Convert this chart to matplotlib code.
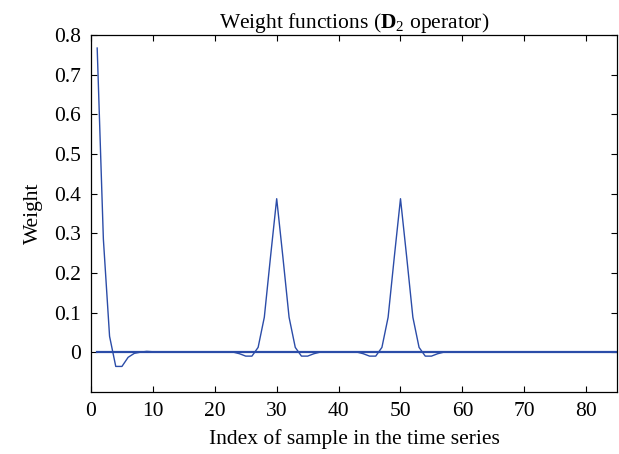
import numpy as np
import matplotlib
matplotlib.use("Agg")
import matplotlib.pyplot as plt

plt.rcParams["font.family"] = ["Liberation Serif", "DejaVu Serif"]
plt.rcParams["mathtext.fontset"] = "custom"
plt.rcParams["mathtext.rm"] = "Liberation Serif"
plt.rcParams["mathtext.bf"] = "Liberation Serif:bold"

# sample index and weight of the D2 operator
sample_idx = list(range(1, 58))
weights = [0.767, 0.285, 0.040, -0.036, -0.036, -0.013, -0.003, 0.000, 0.002, 0.001,
           0.0, 0.0, 0.0, 0.0, 0.0, 0.0, 0.0, 0.0, 0.0, 0.0,
           0.0, 0.0, 0.0, -0.004, -0.010, -0.010, 0.012, 0.088, 0.240, 0.387,
           0.240, 0.088, 0.012, -0.010, -0.010, -0.004, 0.0, 0.0, 0.0, 0.0,
           0.0, 0.0, 0.0, -0.004, -0.010, -0.010, 0.012, 0.088, 0.240, 0.387,
           0.240, 0.088, 0.012, -0.010, -0.010, -0.004, 0.0]
zero_x = [1, 86]
zero_y = [0, 0]

xticks = list(range(0, 81, 10))
yticks = [0, 0.1, 0.2, 0.3, 0.4, 0.5, 0.6, 0.7, 0.8]

fig = plt.figure(figsize=(6.19, 4.54), dpi=100)
ax = fig.add_axes([0.147, 0.137, 0.85, 0.786])

line_col = "#2b4ca8"
ax.plot(zero_x, zero_y, color=line_col, lw=1.6)
ax.plot(sample_idx, weights, color=line_col, lw=1.0)

ax.set_xlim(0, 85)
ax.set_ylim(-0.1, 0.8)
ax.set_xticks(xticks)
ax.set_yticks(yticks)
ax.set_yticklabels(["0", "0.1", "0.2", "0.3", "0.4", "0.5", "0.6", "0.7", "0.8"])
ax.tick_params(direction="in", top=True, right=True, labelsize=15.5, length=4, width=0.8)
ax.tick_params(axis="x", pad=7)
ax.tick_params(axis="y", pad=7)
for s in ax.spines.values():
    s.set_linewidth(0.9)

ax.set_title(r"Weight functions ($\mathbf{D}_2$ operator)", fontsize=15.5, pad=5)
ax.set_xlabel("Index of sample in the time series", fontsize=15.5, labelpad=6)
ax.set_ylabel("Weight", fontsize=15.5, labelpad=8)

fig.savefig("out.png", dpi=100)
plt.close(fig)
